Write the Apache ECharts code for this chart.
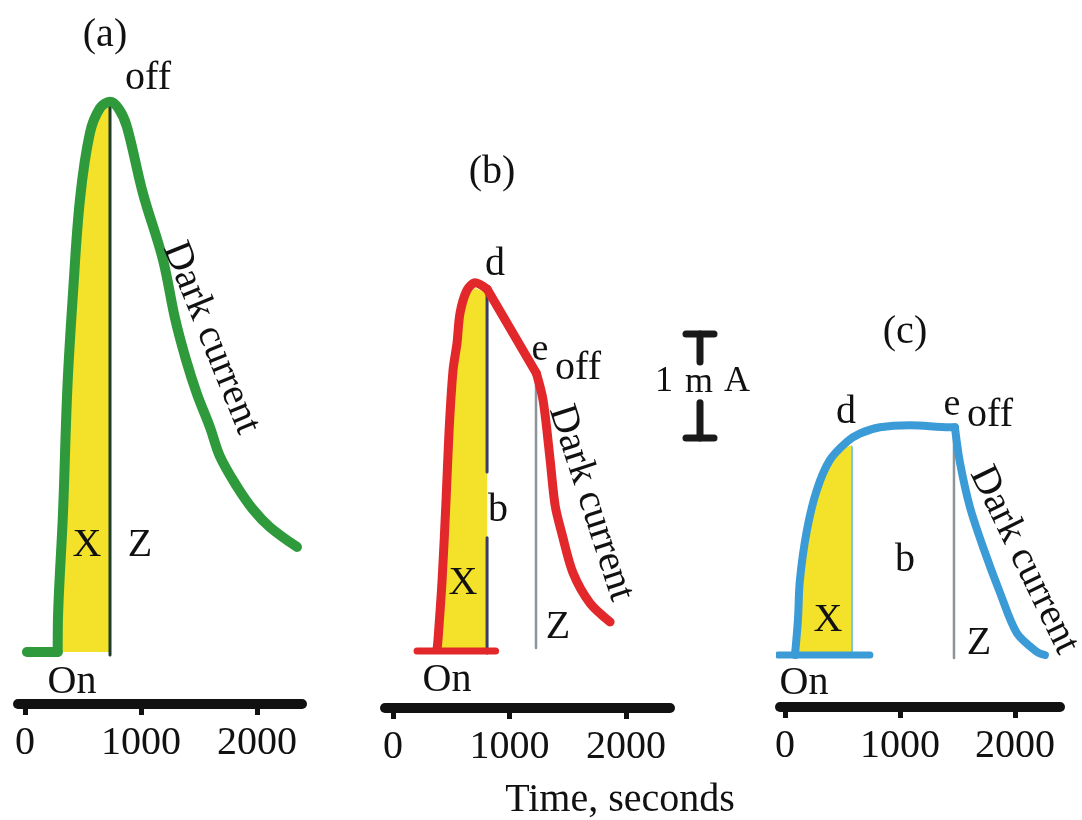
<!DOCTYPE html>
<html>
<head>
<meta charset="utf-8">
<script src="https://cdn.jsdelivr.net/npm/echarts@6/dist/echarts.min.js"></script>
<style>
  html, body { margin: 0; padding: 0; background: #fff; }
  #chart { width: 1082px; height: 820px; }
</style>
</head>
<body>
<div id="chart"></div>
<script>
// time axis ticks (seconds)
const tickValues = [0, 1000, 2000]

// (a) current in mA vs time in s
const baseA = [[17, 0], [282, 0]]
const curveA = [[282, 0], [286, 0.38], [328, 1.34], [366, 2.55], [414, 3.45], [474, 4.35], [560, 4.99], [647, 5.23], [733, 5.29],
  [810, 5.22], [879, 5.05], [1017, 4.41], [1190, 3.77], [1293, 3.21], [1388, 2.81], [1483, 2.48], [1595, 2.16], [1681, 1.88],
  [1828, 1.59], [1966, 1.37], [2112, 1.2], [2345, 1.01]]
const fillA = [[290, 0], [292, 0.38], [332, 1.34], [370, 2.55], [418, 3.45], [478, 4.35], [562, 4.99], [647, 5.18], [733, 5.25], [733, 0]]
const offA = [[733, 5.29], [733, -0.03]]

// (b)
const baseB = [[206, 0], [880, 0]]
const riseB = [[378, 0.02], [386, 0.11], [421, 0.68], [455, 1.45], [481, 2.12], [515, 2.7], [549, 2.96], [575, 3.25], [635, 3.47], [704, 3.54], [807, 3.48]]
const deB = [[807, 3.48], [1230, 2.67]]
const fallB = [[1230, 2.67], [1288, 2.41], [1348, 1.84], [1391, 1.4], [1451, 1.12], [1545, 0.75], [1691, 0.46], [1863, 0.28]]
const fillB = [[392, 0], [394, 0.11], [428, 0.68], [462, 1.45], [488, 2.12], [521, 2.7], [555, 2.96], [582, 3.22], [638, 3.42], [704, 3.49], [807, 3.44], [807, 0]]
const dLineB = [[[807, 3.48], [807, 1.72]], [[807, 1.09], [807, -0.02]]]
const eLineB = [[1227, 2.67], [1227, 0.03]]

// (c)
const baseC = [[-61, 0], [739, 0]]
const riseC = [[87, 0], [113, 0.34], [130, 0.72], [191, 1.2], [278, 1.59], [391, 1.875], [539, 2.05], [652, 2.13], [826, 2.19], [1087, 2.21], [1435, 2.19], [1478, 2.19]]
const fallC = [[1478, 2.19], [1522, 1.85], [1609, 1.42], [1722, 1.04], [1870, 0.6], [2017, 0.21], [2191, 0.03], [2261, 0]]
const fillC = [[98, 0], [120, 0.34], [138, 0.72], [198, 1.2], [284, 1.59], [396, 1.86], [539, 2.0], [583, 2.02], [583, 0]]
const edgeC = [[583, 0], [583, 2.0]]
const eLineC = [[1470, 2.19], [1470, -0.03]]

// 1 mA scale bar (y in mA)
const scaleBar = [[[0, 1], [0, 0.73]], [[0, 0.34], [0, 0]], [[-1, 1], [1, 1]], [[-1, 0], [1, 0]]]

const GREEN = '#2f9a3b'
const RED = '#e2282a'
const BLUE = '#3b9bd7'
const YELLOW = '#f3e229'
const FONT = '"Liberation Serif", "DejaVu Serif", serif'
const MA = 104 // px per mA

const panels = [
  { left: 18, width: 284, base: 652, min: -60, max: 2388, offset: 0 },
  { left: 385, width: 285, base: 651, min: -69, max: 2377, offset: 5 },
  { left: 780, width: 280, base: 655, min: -43, max: 2392, offset: 0 }
]

const grid = panels.map(p => ({
  left: p.left, width: p.width, top: p.base - 6 * MA, height: 6.5 * MA, outerBoundsMode: 'none'
}))
grid.push({ left: 686, width: 28, top: 334, height: MA, outerBoundsMode: 'none' })

const xAxis = panels.map((p, i) => ({
  type: 'value', gridIndex: i, min: p.min, max: p.max, offset: p.offset,
  axisLine: { show: true, onZero: false, lineStyle: { color: '#111', width: 10, cap: 'round' } },
  axisTick: { show: true, customValues: tickValues, length: 11, lineStyle: { color: '#111', width: 5 } },
  axisLabel: { customValues: tickValues, formatter: v => String(v), color: '#111', fontSize: 40, fontFamily: FONT, margin: 19 },
  splitLine: { show: false }
}))
xAxis.push({ type: 'value', gridIndex: 3, min: -1, max: 1, show: false })

const yAxis = panels.map((p, i) => ({ type: 'value', gridIndex: i, min: -0.5, max: 6, show: false }))
yAxis.push({ type: 'value', gridIndex: 3, min: 0, max: 1, show: false })

function line(idx, data, color, width, smooth) {
  return {
    type: 'line', xAxisIndex: idx, yAxisIndex: idx, data, symbol: 'none', smooth: smooth || false,
    silent: true, clip: false,
    lineStyle: { color, width, cap: 'round', join: 'round' }
  }
}
function fill(idx, data) {
  return {
    type: 'line', xAxisIndex: idx, yAxisIndex: idx, data, symbol: 'none', silent: true, clip: false,
    lineStyle: { width: 0 }, areaStyle: { color: YELLOW, opacity: 1, origin: 0 }
  }
}

const series = [
  fill(0, fillA),
  line(0, offA, '#1d3b2b', 3),
  line(0, baseA, GREEN, 10),
  line(0, curveA, GREEN, 10, 0.35),

  fill(1, fillB),
  line(1, dLineB[0], '#3a3d5e', 3),
  line(1, dLineB[1], '#3a3d5e', 3),
  line(1, eLineB, '#8c939a', 2.5),
  line(1, baseB, RED, 7),
  line(1, riseB, RED, 9, 0.3),
  line(1, deB, RED, 9),
  line(1, fallB, RED, 9, 0.3),

  fill(2, fillC),
  line(2, edgeC, '#7fc6d8', 2),
  line(2, eLineC, '#8c939a', 2.5),
  line(2, baseC, BLUE, 7),
  line(2, riseC, BLUE, 8, 0.35),
  line(2, fallC, BLUE, 8, 0.3)
]
scaleBar.forEach(seg => series.push(line(3, seg, '#1a1a1a', 7)))

function txt(text, x, y, size, rot) {
  return {
    type: 'text', x, y, z: 100, rotation: (rot || 0) * Math.PI / 180, silent: true,
    style: { text, fill: '#111', font: (size || 40) + 'px ' + FONT, align: 'center', verticalAlign: 'middle' }
  }
}

const graphic = [
  txt('(a)', 105, 35), txt('off', 148, 78), txt('Dark current', 211, 338, 40, -68),
  txt('X', 87, 545), txt('Z', 140, 545), txt('On', 72, 682),

  txt('(b)', 492, 172), txt('d', 495, 264), txt('e', 540, 350, 38), txt('off', 578, 368),
  txt('Dark current', 591, 503, 40, -72), txt('b', 498, 510), txt('X', 463, 583), txt('Z', 558, 627), txt('On', 447, 680),

  txt('(c)', 905, 332), txt('d', 846, 412), txt('e', 952, 405, 38), txt('off', 990, 415),
  txt('Dark current', 1024, 560, 40, -64), txt('b', 905, 560), txt('X', 828, 620), txt('Z', 979, 643), txt('On', 804, 683),

  txt('1', 664, 382, 36), txt('m', 699, 383, 36), txt('A', 737, 382, 36),
  txt('Time, seconds', 620, 800, 40)
]

const chart = echarts.init(document.getElementById('chart'))
chart.setOption({
  animation: false,
  backgroundColor: '#fff',
  grid, xAxis, yAxis, series, graphic
})
</script>
</body>
</html>
